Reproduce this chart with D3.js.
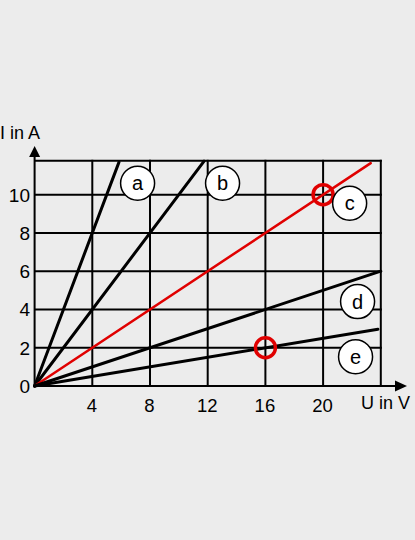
<!DOCTYPE html>
<html><head><meta charset="utf-8">
<script src="https://cdn.jsdelivr.net/npm/d3@7"></script>
<style>html,body{margin:0;padding:0;background:#ececec;}svg{display:block;}</style>
</head><body>
<script>
const lineNames = ["a", "b", "c", "d", "e"];
const lineEndU = [5.85, 11.75, 23.3, 24, 23.8];
const lineEndI = [11.7, 11.75, 11.65, 6, 2.97];
const lineColors = ["#000", "#000", "#e00000", "#000", "#000"];
const labelU = [7.14, 13.03, 21.84, 22.39, 22.25];
const labelI = [10.6, 10.6, 9.55, 4.41, 1.53];
const markerU = [20, 16];
const markerI = [10, 2];
const xTicks = [4, 8, 12, 16, 20];
const yTicks = [0, 2, 4, 6, 8, 10];
const xGrid = [4, 8, 12, 16, 20, 24];
const yGrid = [2, 4, 6, 8, 10, 11.77];
const xMax = 24, yMax = 12;

const W = 415, H = 540;
const svg = d3.select("body").append("svg").attr("width", W).attr("height", H);
svg.append("rect").attr("width", W).attr("height", H).attr("fill", "#ececec");
const x = d3.scaleLinear().domain([0, xMax]).range([34.6, 380.8]);
const y = d3.scaleLinear().domain([0, yMax]).range([386, 156.4]);
const font = "'Liberation Sans', Arial, sans-serif";

// grid
svg.append("g").selectAll("line").data(xGrid).join("line")
  .attr("x1", d => x(d)).attr("x2", d => x(d))
  .attr("y1", y(0)).attr("y2", y(yGrid[yGrid.length - 1]) - 1)
  .attr("stroke", "#000").attr("stroke-width", 2);
svg.append("g").selectAll("line").data(yGrid).join("line")
  .attr("x1", x(0)).attr("x2", x(xMax) + 1)
  .attr("y1", d => y(d)).attr("y2", d => y(d))
  .attr("stroke", "#000").attr("stroke-width", 2);

// axes
svg.append("line").attr("x1", x(0)).attr("x2", x(0)).attr("y1", y(0) + 1).attr("y2", 152)
  .attr("stroke", "#000").attr("stroke-width", 2);
svg.append("path").attr("d", `M${x(0)},146 L${x(0) - 5.5},157 L${x(0) + 5.5},157 Z`).attr("fill", "#000");
svg.append("line").attr("x1", x(0) - 1).attr("x2", 400).attr("y1", y(0)).attr("y2", y(0))
  .attr("stroke", "#000").attr("stroke-width", 2);
svg.append("path").attr("d", `M407,${y(0)} L395,${y(0) - 5.5} L395,${y(0) + 5.5} Z`).attr("fill", "#000");

// tick labels
svg.append("g").selectAll("text").data(xTicks).join("text")
  .attr("x", d => x(d) - 0.5).attr("y", 412).attr("text-anchor", "middle")
  .attr("font-family", font).attr("font-size", 18.5).attr("fill", "#000").text(d => d);
svg.append("g").selectAll("text").data(yTicks).join("text")
  .attr("x", 30).attr("y", d => y(d)).attr("dy", "0.36em").attr("text-anchor", "end")
  .attr("font-family", font).attr("font-size", 19).attr("fill", "#000").text(d => d);

svg.append("text").attr("x", 0).attr("y", 138.5).attr("font-family", font).attr("font-size", 18)
  .attr("fill", "#000").text("I in A");
svg.append("text").attr("x", 361).attr("y", 409).attr("font-family", font).attr("font-size", 18)
  .attr("fill", "#000").text("U in V");

// lines
svg.append("g").selectAll("line").data(lineNames).join("line")
  .attr("x1", x(0)).attr("y1", y(0))
  .attr("x2", (d, i) => x(lineEndU[i])).attr("y2", (d, i) => y(lineEndI[i]))
  .attr("stroke", (d, i) => lineColors[i])
  .attr("stroke-width", (d, i) => lineColors[i] === "#000" ? 3 : 2.5)
  .attr("stroke-linecap", "round");

// markers
svg.append("g").selectAll("circle").data(markerU).join("circle")
  .attr("cx", d => x(d)).attr("cy", (d, i) => y(markerI[i])).attr("r", 10)
  .attr("fill", "none").attr("stroke", "#e00000").attr("stroke-width", 3.5);

// labels
const lg = svg.append("g").selectAll("g").data(lineNames).join("g")
  .attr("transform", (d, i) => `translate(${x(labelU[i])},${y(labelI[i])})`);
lg.append("circle").attr("r", 17).attr("fill", "#fff").attr("stroke", "#000").attr("stroke-width", 1.5);
lg.append("text").attr("text-anchor", "middle").attr("dy", "0.36em")
  .attr("font-family", font).attr("font-size", 20).attr("fill", "#000").text(d => d);
</script>
</body></html>
